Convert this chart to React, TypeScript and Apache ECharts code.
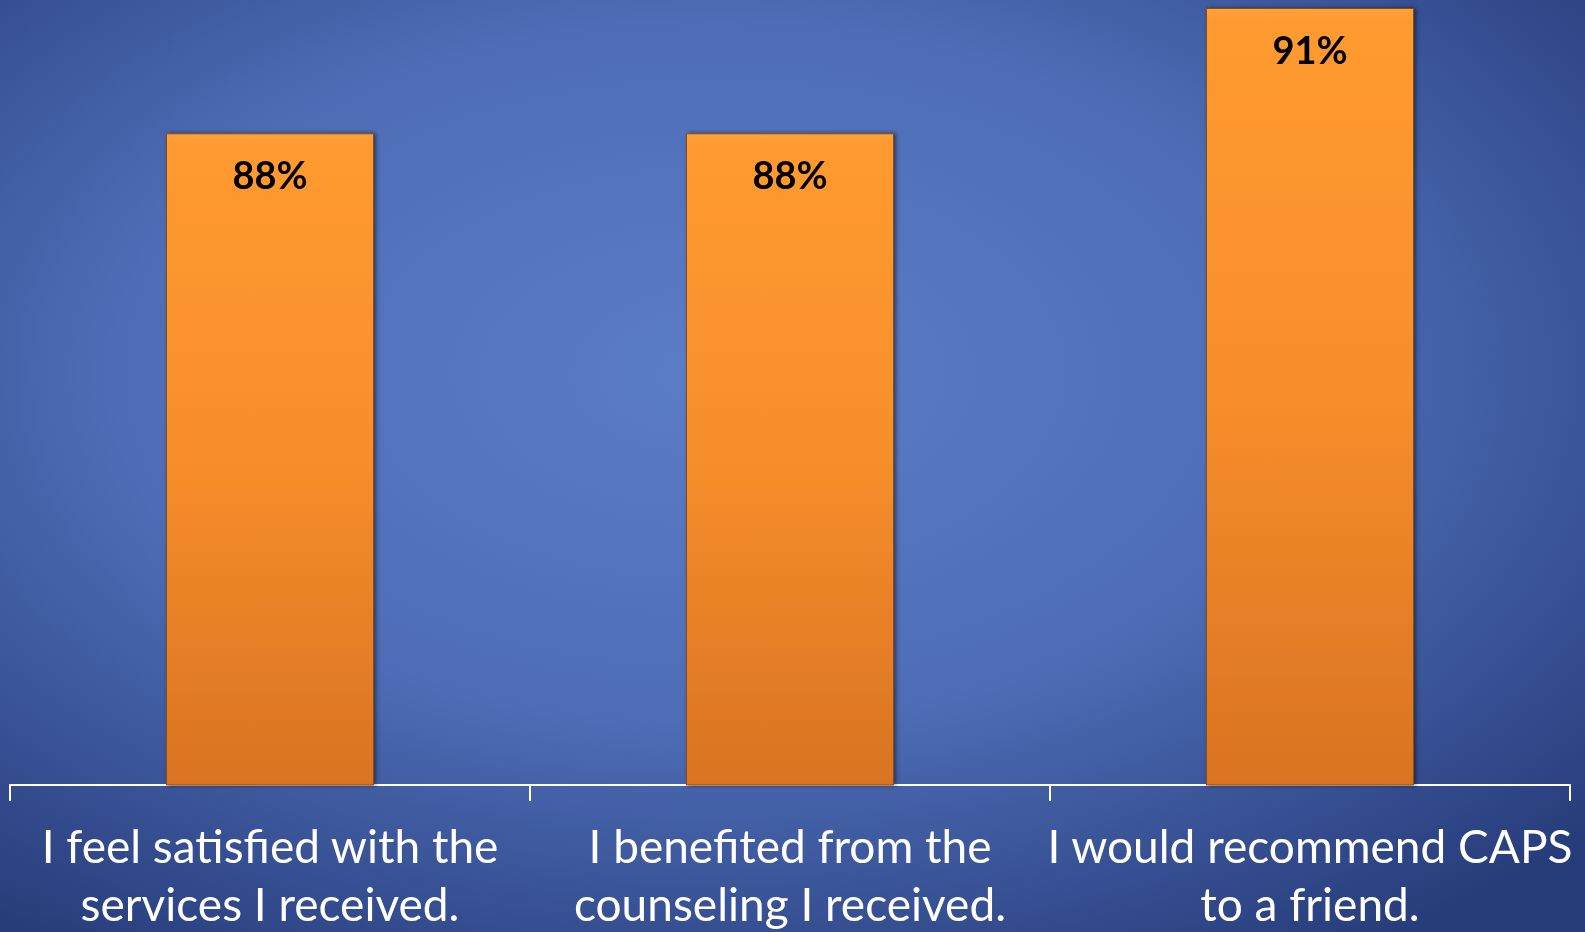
import React, { useEffect, useRef } from "react";
import * as echarts from "echarts";

const categories = [
  "I feel satisfied with the\nservices I received.",
  "I benefited from the\ncounseling I received.",
  "I would recommend CAPS\nto a friend.",
];
const values = [88, 88, 91];

export default function App() {
  const ref = useRef<HTMLDivElement>(null);
  useEffect(() => {
    if (!ref.current) return;
    const chart = echarts.init(ref.current, null, { renderer: "svg" });
    chart.setOption({
      animation: false,
      backgroundColor: new echarts.graphic.RadialGradient(0.45, 0.4, 0.75, [
        { offset: 0, color: "#5b7cc7" },
        { offset: 0.5, color: "#4e6db6" },
        { offset: 1, color: "#263b79" },
      ]),
      grid: { left: 10, right: 15, top: 8, bottom: 932 - 787 },
      xAxis: {
        type: "category",
        data: categories,
        boundaryGap: true,
        axisLine: { show: true, lineStyle: { color: "#ffffff", width: 2 } },
        axisTick: { show: true, length: 16, lineStyle: { color: "#ffffff", width: 2 } },
        axisLabel: {
          color: "#ffffff",
          fontFamily: "Lato",
          fontSize: 46,
          lineHeight: 58,
          margin: 31,
          interval: 0,
        },
      },
      yAxis: {
        type: "value",
        min: 72.4,
        max: 91,
        show: false,
        splitLine: { show: false },
      },
      series: [
        {
          type: "bar",
          data: values,
          barWidth: "40%",
          itemStyle: {
            color: new echarts.graphic.LinearGradient(0, 0, 0, 1, [
              { offset: 0, color: "#ffa23a" },
              { offset: 0.015, color: "#ff9a30" },
              { offset: 0.5, color: "#f68e2c" },
              { offset: 1, color: "#d97322" },
            ]),
            borderColor: "#8a4d14",
            borderWidth: 1,
            shadowColor: "rgba(0,0,0,0.5)",
            shadowBlur: 4,
            shadowOffsetX: 2,
            shadowOffsetY: 0,
          },
          label: {
            show: true,
            position: "insideTop",
            distance: 22,
            formatter: "{c}%",
            color: "#000000",
            fontFamily: "Lato",
            fontWeight: "bold",
            fontSize: 38,
          },
        },
      ],
    });
    return () => chart.dispose();
  }, []);
  return (
    <div
      ref={ref}
      style={{ position: "fixed", left: 0, top: 0, width: 1585, height: 932 }}
    />
  );
}
